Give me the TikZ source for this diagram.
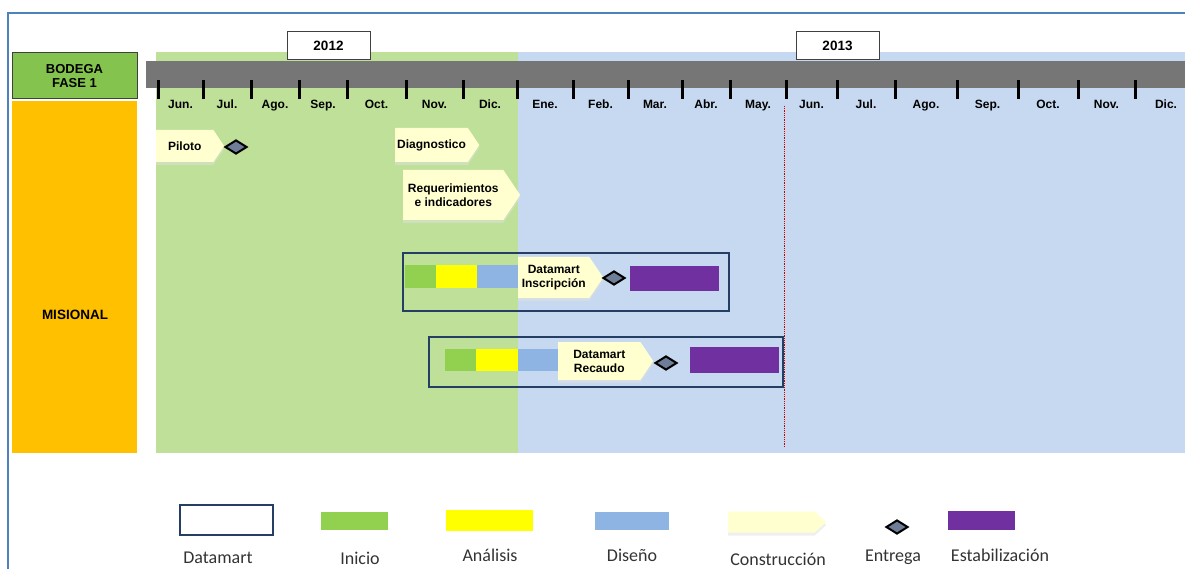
\documentclass[tikz,border=0pt]{standalone}
\usepackage{fontspec}
\setmainfont{Liberation Sans}
\newfontfamily\legendfont{Carlito}
\usetikzlibrary{calc,shapes.geometric,shapes.symbols,shadows}

\definecolor{framecol}{RGB}{79,129,189}
\definecolor{bggreen}{RGB}{190,224,152}
\definecolor{bgblue}{RGB}{198,217,240}
\definecolor{bargray}{RGB}{118,118,118}
\definecolor{bodega}{RGB}{132,196,78}
\definecolor{misional}{RGB}{255,192,0}
\definecolor{inicio}{RGB}{146,208,80}
\definecolor{analisis}{RGB}{255,255,0}
\definecolor{diseno}{RGB}{141,180,226}
\definecolor{constr}{RGB}{255,255,208}
\definecolor{entrega}{RGB}{110,125,152}
\definecolor{estab}{RGB}{112,48,160}
\definecolor{dmblue}{RGB}{36,62,100}

\tikzset{
  yearbox/.style={draw=black!75, fill=white, line width=1pt,
    minimum width=83, minimum height=28, font=\bfseries\fontsize{13.5}{15}\selectfont},
  constrbox/.style={shape=signal, signal to=east, signal pointer angle=112,
    fill=constr, inner sep=2pt, align=center,
    drop shadow={shadow xshift=0pt, shadow yshift=-3pt, fill=black!12}},
  entregamark/.style={diamond, draw=black, line width=2pt, fill=entrega,
    minimum width=22, minimum height=14, inner sep=0pt},
  dmframe/.style={draw=dmblue, line width=1.8pt},
  legendlabel/.style={font=\legendfont\fontsize{18}{20}\selectfont, text=black!80, anchor=base}
}

\begin{document}
\begin{tikzpicture}[x=1pt,y=-1pt,font=\bfseries\fontsize{12}{14}\selectfont]
  \useasboundingbox (0,0) rectangle (1185,569);

  %% Outer frame
  \draw[framecol, line width=1.5pt] (8,569) -- (8,13) -- (1185,13);

  %% Backgrounds for the two years
  \fill[bggreen] (156,52) rectangle (518,453);
  \fill[bgblue]  (518,52) rectangle (1185,453);

  %% Row headers
  \node[draw=black!75, fill=bodega, line width=1pt, minimum width=125, minimum height=46,
        align=center, font=\bfseries\fontsize{13}{14}\selectfont] (BODEGA) at (74.5,76)
        {BODEGA\\FASE 1};
  \fill[misional] (12,101) rectangle (137,453);
  \node[font=\bfseries\fontsize{13.5}{15}\selectfont] (MISIONAL) at (75,315) {MISIONAL};

  %% Time line
  \fill[bargray] (146,61) rectangle (1185,88);
  \node[yearbox] (Y2012) at (328.5,46) {2012};
  \node[yearbox] (Y2013) at (837.5,46) {2013};

  \foreach \t [count=\i] in {158,203,251,299,347,406,463,517,573,628,682,730,786,837,895,957,1018,1078,1135,1197}
  {
    \coordinate (T\i) at (\t,109);
  }
  \foreach \t [count=\i] in {158,203,251,299,347,406,463,517,573,628,682,730,786,837,895,957,1018,1078,1135}
  {
    \draw[black, line width=3pt] (\t,80) -- (\t,99);
  }
  \foreach \m [count=\i] in {Jun.,Jul.,Ago.,Sep.,Oct.,Nov.,Dic.,Ene.,Feb.,Mar.,Abr.,May.,Jun.,Jul.,Ago.,Sep.,Oct.,Nov.,Dic.}
  {
    \pgfmathtruncatemacro{\j}{\i+1}
    \node[anchor=base] (M\i) at ($(T\i)!0.5!(T\j)$) {\m};
  }

  %% Cut-off line
  \draw[red!80!black, densely dotted, line width=0.8pt] (784,106) -- (784,447);

  %% Piloto and first tasks
  \node[constrbox, minimum width=68, minimum height=32, anchor=west] (PILOTO) at (156,146) {Piloto};
  \node[entregamark] (E0) at (236,147) {};
  \node[constrbox, minimum width=71, minimum height=34, anchor=west] (DIAG) at (395,145) {Diagnostico};
  \node[constrbox, minimum width=117, minimum height=50, anchor=west] (REQ) at (403,195)
       {Requerimientos\\e indicadores};

  %% Datamart Inscripcion
  \draw[dmframe] (403,253) rectangle (729,311);
  \fill[inicio]   (405,265) rectangle (436,288);
  \fill[analisis] (436,265) rectangle (477,288);
  \fill[diseno]   (477,265) rectangle (518,288);
  \node[constrbox, minimum width=85, minimum height=41, anchor=west] (INSC) at (518,277.5)
       {Datamart\\Inscripción};
  \node[entregamark] (E1) at (614,278) {};
  \fill[estab] (630,266) rectangle (719,291);

  %% Datamart Recaudo
  \draw[dmframe] (429,337) rectangle (783,387);
  \fill[inicio]   (445,349) rectangle (476,371);
  \fill[analisis] (476,349) rectangle (518,371);
  \fill[diseno]   (518,349) rectangle (558,371);
  \node[constrbox, minimum width=95, minimum height=38, anchor=west] (RECA) at (558,361)
       {Datamart\\Recaudo};
  \node[entregamark] (E2) at (666,363) {};
  \fill[estab] (690,347) rectangle (779,373);

  %% Legend
  \draw[dmframe] (180,505) rectangle (273,535);
  \fill[inicio]   (321,512) rectangle (388,530);
  \fill[analisis] (446,510) rectangle (533,531);
  \fill[diseno]   (595,512) rectangle (669,530);
  \node[constrbox, signal pointer angle=85, minimum width=98, minimum height=21, anchor=west]
       (LCONSTR) at (728,522) {};
  \node[entregamark] (LENTREGA) at (897,527) {};
  \fill[estab] (948,511) rectangle (1015,530);

  \foreach \x/\y/\txt in {218/563/Datamart, 360/564/Inicio, 490/561/Análisis, 632/561/Diseño,
                          778/565/Construcción, 893/561/Entrega, 1000/561/Estabilización}
  {
    \node[legendlabel] (L-\txt) at (\x,\y) {\txt};
  }
\end{tikzpicture}
\end{document}
